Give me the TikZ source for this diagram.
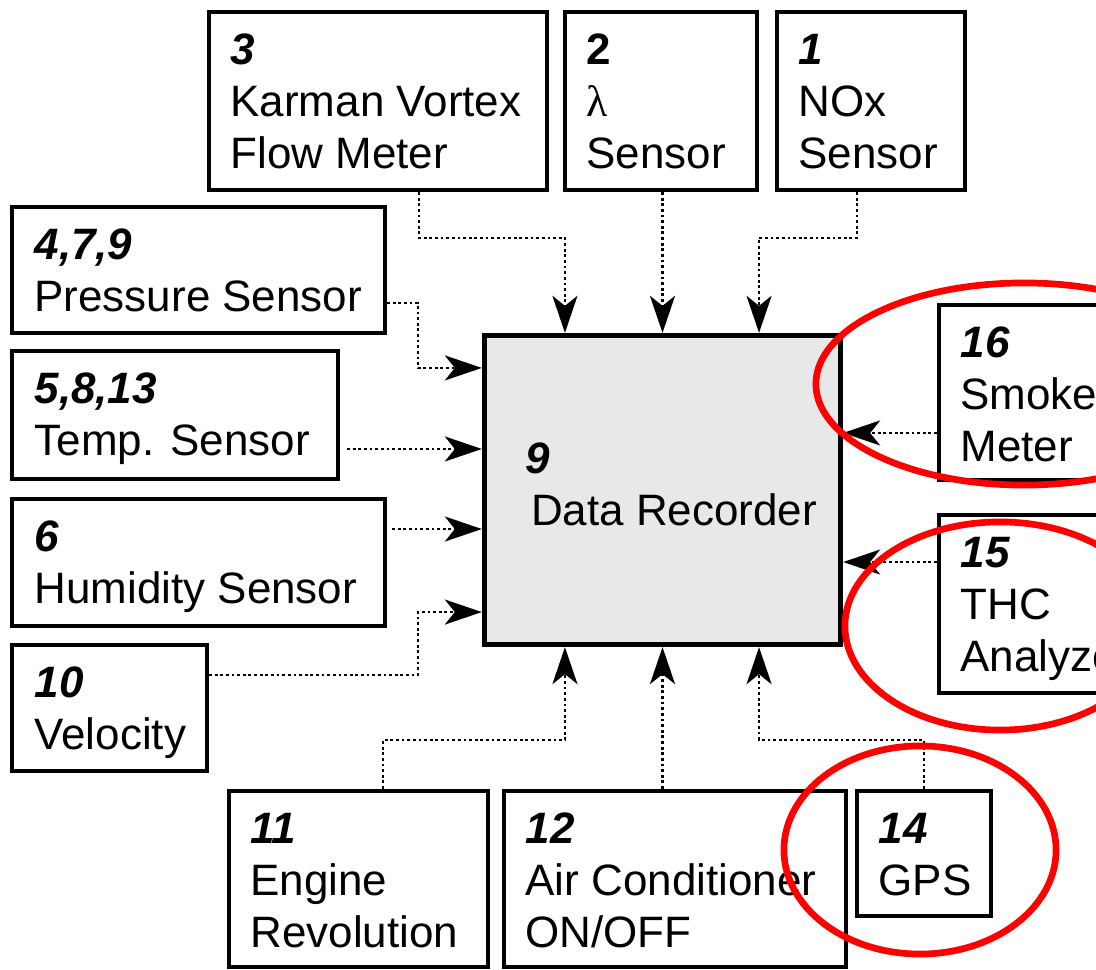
\documentclass[tikz,border=0pt]{standalone}
\usepackage{fontspec}
\setmainfont{Liberation Sans}
\newfontfamily\lamfont{Liberation Serif}
\usetikzlibrary{arrows.meta,fit}
\definecolor{recfill}{HTML}{E8E8E8}
\newcommand\nb[1]{\textbf{\textit{#1}}}
\newcommand\lines[1]{\begin{tabular}[t]{@{}l@{}}#1\end{tabular}}
\begin{document}
\begin{tikzpicture}[x=0.01cm,y=-0.01cm,
  box/.style={draw, line width=1.2pt, inner sep=0pt, fill=white},
  recbox/.style={draw, line width=1.5pt, inner sep=0pt, fill=recfill},
  lbl/.style={inner sep=0pt, anchor=base west, font=\fontsize{12.5}{14.8}\selectfont},
  conn/.style={line width=0.8pt, dash pattern=on 0.8pt off 0.8pt,
    -{Stealth[length=0.37cm,width=0.25cm,inset=0.1cm]}},
  redring/.style={draw=red, line width=1.9pt}]
\clip (0,0) rectangle (1096,970);
\fill[white] (0,0) rectangle (1096,970);

% boxes
\node[box, fit={(209,12)(547,190)}] (b3) {};
\node[box, fit={(565,12)(757,190)}] (b2) {};
\node[box, fit={(777,12)(965,190)}] (b1) {};
\node[box, fit={(12,207)(385,333)}] (b4) {};
\node[box, fit={(12,351)(338,479)}] (b5) {};
\node[box, fit={(12,499)(385,626)}] (b6) {};
\node[box, fit={(12,645)(207,771)}] (b10) {};
\node[box, fit={(229,791)(488,967)}] (b11) {};
\node[box, fit={(504,791)(846,967)}] (b12) {};
\node[box, fit={(857,791)(991,916)}] (b14) {};
\node[box, fit={(939,305)(1130,480)}] (b16) {};
\node[box, fit={(939,515)(1130,693)}] (b15) {};
\node[recbox, fit={(484.5,335.5)(840.5,644.5)}] (rec) {};

% labels
\node[lbl] (t3) at ([shift={(23,55)}]b3.north west) {\lines{\nb{3}\\Karman Vortex\\Flow Meter}};
\node[lbl] (t2) at ([shift={(23,55)}]b2.north west) {\lines{\textbf{2}\\{\lamfont λ}\\Sensor}};
\node[lbl] (t1) at ([shift={(23,55)}]b1.north west) {\lines{\nb{1}\\NOx\\Sensor}};
\node[lbl] (t4) at ([shift={(24,55)}]b4.north west) {\lines{\nb{4,7,9}\\Pressure Sensor}};
\node[lbl] (t5) at ([shift={(24,55)}]b5.north west) {\lines{\nb{5,8,13}\\Temp. Sensor}};
\node[lbl] (t6) at ([shift={(24,55)}]b6.north west) {\lines{\nb{6}\\Humidity Sensor}};
\node[lbl] (t10) at ([shift={(24,55)}]b10.north west) {\lines{\nb{10}\\Velocity}};
\node[lbl] (t11) at ([shift={(23,55)}]b11.north west) {\lines{\nb{11}\\Engine\\Revolution}};
\node[lbl] (t12) at ([shift={(23,55)}]b12.north west) {\lines{\nb{12}\\Air Conditioner\\ON/OFF}};
\node[lbl] (t14) at ([shift={(23,55)}]b14.north west) {\lines{\nb{14}\\GPS}};
\node[lbl] (t16) at ([shift={(23,55)}]b16.north west) {\lines{\nb{16}\\Smoke\\Meter}};
\node[lbl] (t15) at ([shift={(23,55)}]b15.north west) {\lines{\nb{15}\\THC\\Analyzer}};
\node[lbl] (t9) at ([shift={(42.5,140.5)}]rec.north west) {\lines{\nb{9}\\\hspace*{0.06cm}Data Recorder}};

% helper coordinates
\coordinate (topmid) at (0,238);
\coordinate (botmid) at (0,740);
\coordinate (leftmid) at (418,0);
\coordinate (rT1) at ([xshift=-0.975cm]rec.north);
\coordinate (rT2) at (rec.north);
\coordinate (rT3) at ([xshift=0.965cm]rec.north);
\coordinate (rB1) at ([xshift=-0.975cm]rec.south);
\coordinate (rB2) at (rec.south);
\coordinate (rB3) at ([xshift=0.965cm]rec.south);
\coordinate (rL1) at ([yshift=1.22cm]rec.west);
\coordinate (rL2) at ([yshift=0.41cm]rec.west);
\coordinate (rL3) at ([yshift=-0.39cm]rec.west);
\coordinate (rL4) at ([yshift=-1.22cm]rec.west);
\coordinate (rR1) at ([yshift=0.57cm]rec.east);
\coordinate (rR2) at ([yshift=-0.72cm]rec.east);
\coordinate (s3) at ([xshift=0.41cm]b3.south);
\coordinate (s1) at ([xshift=-0.14cm]b1.south);
\coordinate (e4) at ([yshift=-0.33cm]b4.east);
\coordinate (e10) at ([yshift=0.33cm]b10.east);
\coordinate (n11) at ([xshift=0.245cm]b11.north);

% connectors
\draw[conn] (s3) |- (rT1 |- topmid) -- (rT1);
\draw[conn] (b2.south -| rT2) -- (rT2);
\draw[conn] (s1) |- (rT3 |- topmid) -- (rT3);
\draw[conn] (e4) -| (leftmid |- rL1) -- (rL1);
\draw[conn, shorten <=0.07cm] (b5.east |- rL2) -- (rL2);
\draw[conn, shorten <=0.05cm] (b6.east |- rL3) -- (rL3);
\draw[conn] (e10) -| (leftmid |- rL4) -- (rL4);
\draw[conn] (n11) |- (rB1 |- botmid) -- (rB1);
\draw[conn] (b12.north -| rB2) -- (rB2);
\draw[conn] (b14.north) |- (rB3 |- botmid) -- (rB3);
\draw[conn] (b16.west |- rR1) -- (rR1);
\draw[conn] (b15.west |- rR2) -- (rR2);

% red highlights
\draw[redring] (1024,384) ellipse [x radius=2.08cm, y radius=1.01cm];
\draw[redring] (1000,626) ellipse [x radius=1.55cm, y radius=1.04cm];
\draw[redring] (920,850) ellipse [x radius=1.36cm, y radius=1.04cm];
\end{tikzpicture}
\end{document}
